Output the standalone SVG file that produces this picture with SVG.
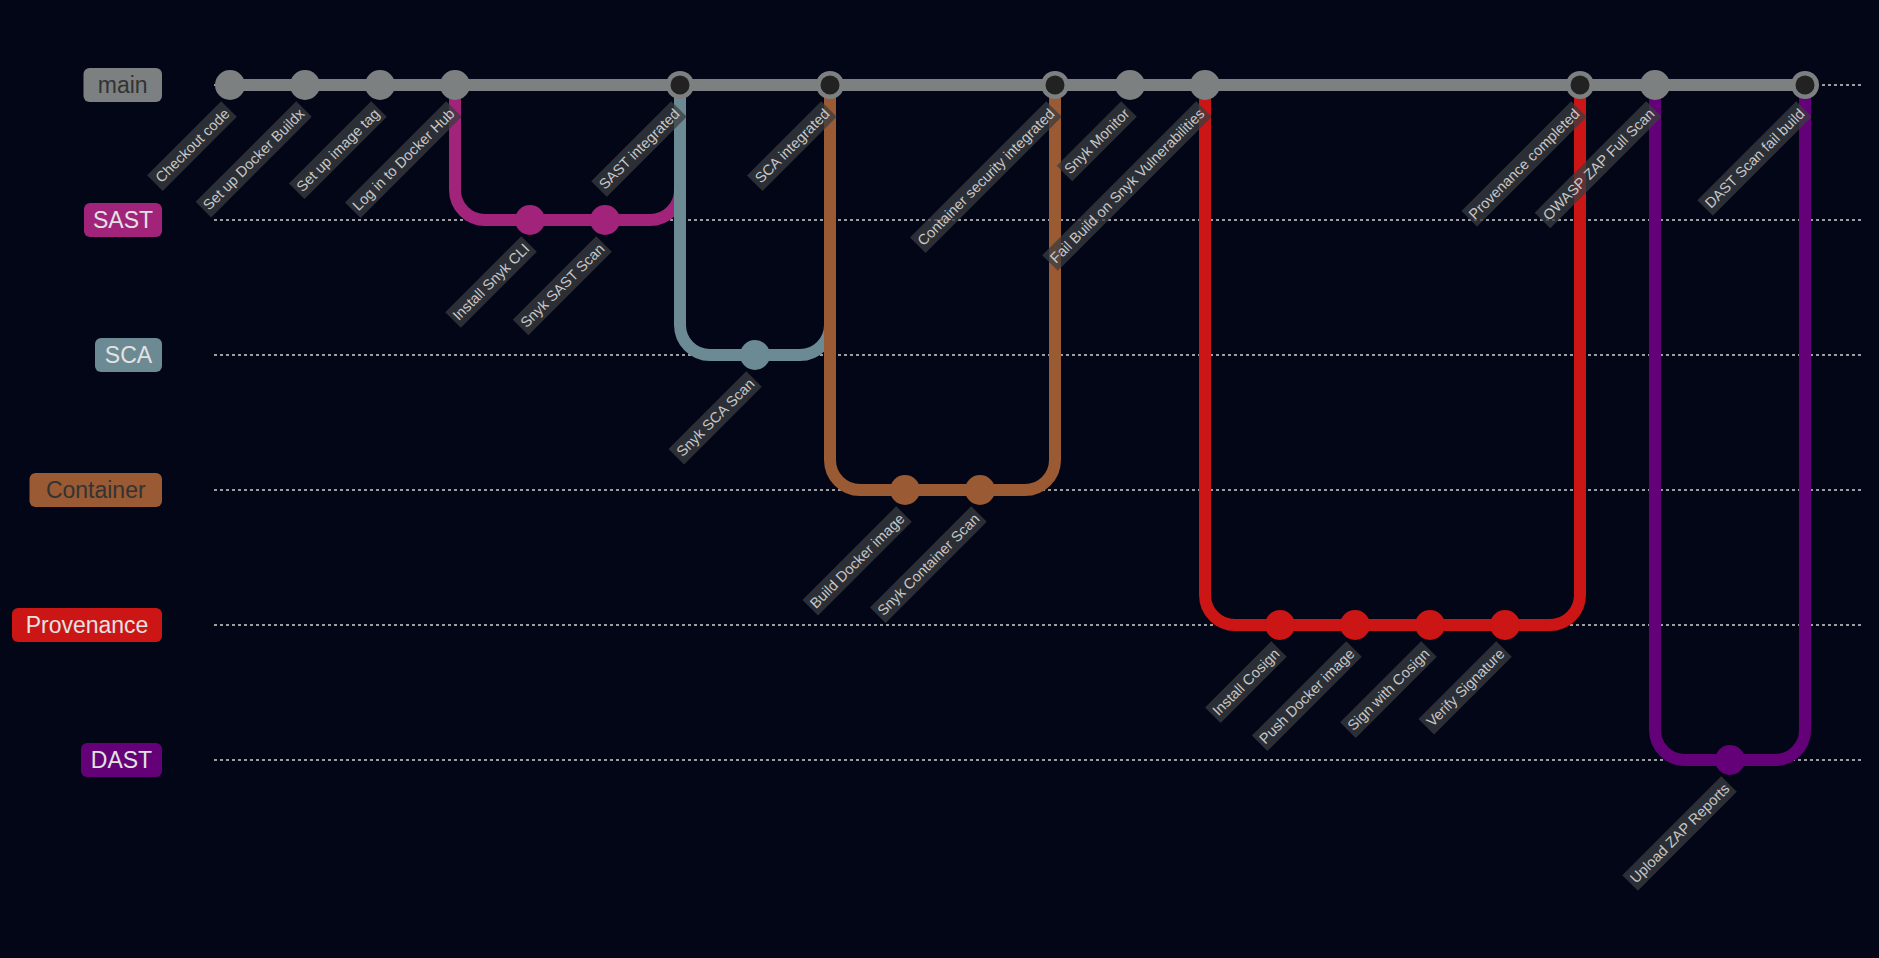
<svg xmlns="http://www.w3.org/2000/svg" width="1879" height="958" viewBox="0 0 1879 958">
<style>
.lane{stroke:#d0d0d0;stroke-width:1.5;stroke-dasharray:3 3;fill:none}
.arr{fill:none;stroke-width:12;stroke-linecap:butt}
.c-main{stroke:#7c8080}.f-main{fill:#7c8080}
.c-sast{stroke:#a1237a}.f-sast{fill:#a1237a}
.c-sca{stroke:#6c8a94}.f-sca{fill:#6c8a94}
.c-cont{stroke:#9a5a33}.f-cont{fill:#9a5a33}
.c-prov{stroke:#cc1515}.f-prov{fill:#cc1515}
.c-dast{stroke:#640078}.f-dast{fill:#640078}
.inner{fill:#222222}
.lbl rect{fill:#3a3d40;opacity:0.75}
.lbl text{font-family:"Liberation Sans",Arial,sans-serif;font-size:14.6px;fill:#c8c8c8;text-anchor:end}
.bl text{font-family:"Liberation Sans",Arial,sans-serif;font-size:23px;text-anchor:middle}
.light{fill:#e2e2e2}.dark{fill:#333333}
</style>
<rect x="0" y="0" width="1879" height="958" fill="#020617"/>

<g id="lanes">
<line class="lane" x1="214" y1="85" x2="1864" y2="85"/>
<line class="lane" x1="214" y1="220" x2="1864" y2="220"/>
<line class="lane" x1="214" y1="355" x2="1864" y2="355"/>
<line class="lane" x1="214" y1="490" x2="1864" y2="490"/>
<line class="lane" x1="214" y1="625" x2="1864" y2="625"/>
<line class="lane" x1="214" y1="760" x2="1864" y2="760"/>
</g>

<g id="branch-labels">
<g id="branch-main" class="bl"><rect x="83.5" y="68" width="78.5" height="34" rx="6" class="f-main"/><text x="122.75" y="93" class="dark">main</text></g>
<g id="branch-sast" class="bl"><rect x="84" y="203" width="78" height="34" rx="6" class="f-sast"/><text x="123" y="228" class="light">SAST</text></g>
<g id="branch-sca" class="bl"><rect x="95" y="338" width="67" height="34" rx="6" class="f-sca"/><text x="128.5" y="363" class="light">SCA</text></g>
<g id="branch-container" class="bl"><rect x="29.5" y="473" width="132.5" height="34" rx="6" class="f-cont"/><text x="95.75" y="498" class="dark">Container</text></g>
<g id="branch-provenance" class="bl"><rect x="12" y="608" width="150" height="34" rx="6" class="f-prov"/><text x="87" y="633" class="light">Provenance</text></g>
<g id="branch-dast" class="bl"><rect x="81" y="743" width="81" height="34" rx="6" class="f-dast"/><text x="121.5" y="768" class="light">DAST</text></g>
</g>

<g id="connectors">
<path class="arr c-main" d="M230 85 H1805"/>
<path class="arr c-sast" d="M455 85 V190 A30 30 0 0 0 485 220 H530"/>
<path class="arr c-sast" d="M530 220 H605"/>
<path class="arr c-sast" d="M605 220 H650 A30 30 0 0 0 680 190 V85"/>
<path class="arr c-sca" d="M680 85 V325 A30 30 0 0 0 710 355 H755"/>
<path class="arr c-sca" d="M755 355 H800 A30 30 0 0 0 830 325 V85"/>
<path class="arr c-cont" d="M830 85 V460 A30 30 0 0 0 860 490 H905"/>
<path class="arr c-cont" d="M905 490 H980"/>
<path class="arr c-cont" d="M980 490 H1025 A30 30 0 0 0 1055 460 V85"/>
<path class="arr c-prov" d="M1205 85 V595 A30 30 0 0 0 1235 625 H1280"/>
<path class="arr c-prov" d="M1280 625 H1505"/>
<path class="arr c-prov" d="M1505 625 H1550 A30 30 0 0 0 1580 595 V85"/>
<path class="arr c-dast" d="M1655 85 V730 A30 30 0 0 0 1685 760 H1730"/>
<path class="arr c-dast" d="M1730 760 H1775 A30 30 0 0 0 1805 730 V85"/>
</g>

<g id="commits">
<g id="c0"><circle cx="230" cy="85" r="15" class="f-main"/><g class="lbl" transform="translate(229,109) rotate(-45)"><rect x="-104.8" y="-11" width="104.8" height="22"/><text x="-3" y="5">Checkout code</text></g></g>
<g id="c1"><circle cx="305" cy="85" r="15" class="f-main"/><g class="lbl" transform="translate(304,109) rotate(-45)"><rect x="-142.3" y="-11" width="142.3" height="22"/><text x="-3" y="5">Set up Docker Buildx</text></g></g>
<g id="c2"><circle cx="380" cy="85" r="15" class="f-main"/><g class="lbl" transform="translate(379,109) rotate(-45)"><rect x="-116.4" y="-11" width="116.4" height="22"/><text x="-3" y="5">Set up image tag</text></g></g>
<g id="c3"><circle cx="455" cy="85" r="15" class="f-main"/><g class="lbl" transform="translate(454,109) rotate(-45)"><rect x="-143.1" y="-11" width="143.1" height="22"/><text x="-3" y="5">Log in to Docker Hub</text></g></g>
<g id="c4"><circle cx="530" cy="220" r="15" class="f-sast"/><g class="lbl" transform="translate(529,244) rotate(-45)"><rect x="-107.4" y="-11" width="107.4" height="22"/><text x="-3" y="5">Install Snyk CLI</text></g></g>
<g id="c5"><circle cx="605" cy="220" r="15" class="f-sast"/><g class="lbl" transform="translate(604,244) rotate(-45)"><rect x="-118" y="-11" width="118" height="22"/><text x="-3" y="5">Snyk SAST Scan</text></g></g>
<g id="c6"><circle cx="680" cy="85" r="14" class="f-main"/><circle cx="680" cy="85" r="9.5" class="inner"/><g class="lbl" transform="translate(679,109) rotate(-45)"><rect x="-113.1" y="-11" width="113.1" height="22"/><text x="-3" y="5">SAST integrated</text></g></g>
<g id="c7"><circle cx="755" cy="355" r="15" class="f-sca"/><g class="lbl" transform="translate(754,379) rotate(-45)"><rect x="-109.9" y="-11" width="109.9" height="22"/><text x="-3" y="5">Snyk SCA Scan</text></g></g>
<g id="c8"><circle cx="830" cy="85" r="14" class="f-main"/><circle cx="830" cy="85" r="9.5" class="inner"/><g class="lbl" transform="translate(829,109) rotate(-45)"><rect x="-105" y="-11" width="105" height="22"/><text x="-3" y="5">SCA integrated</text></g></g>
<g id="c9"><circle cx="905" cy="490" r="15" class="f-cont"/><g class="lbl" transform="translate(904,514) rotate(-45)"><rect x="-132.6" y="-11" width="132.6" height="22"/><text x="-3" y="5">Build Docker image</text></g></g>
<g id="c10"><circle cx="980" cy="490" r="15" class="f-cont"/><g class="lbl" transform="translate(979,514) rotate(-45)"><rect x="-143.1" y="-11" width="143.1" height="22"/><text x="-3" y="5">Snyk Container Scan</text></g></g>
<g id="c11"><circle cx="1055" cy="85" r="14" class="f-main"/><circle cx="1055" cy="85" r="9.5" class="inner"/><g class="lbl" transform="translate(1054,109) rotate(-45)"><rect x="-192.6" y="-11" width="192.6" height="22"/><text x="-3" y="5">Container security integrated</text></g></g>
<g id="c12"><circle cx="1130" cy="85" r="15" class="f-main"/><g class="lbl" transform="translate(1129,109) rotate(-45)"><rect x="-91.2" y="-11" width="91.2" height="22"/><text x="-3" y="5">Snyk Monitor</text></g></g>
<g id="c13"><circle cx="1205" cy="85" r="15" class="f-main"/><g class="lbl" transform="translate(1204,109) rotate(-45)"><rect x="-217.8" y="-11" width="217.8" height="22"/><text x="-3" y="5">Fail Build on Snyk Vulnerabilities</text></g></g>
<g id="c14"><circle cx="1280" cy="625" r="15" class="f-prov"/><g class="lbl" transform="translate(1279,649) rotate(-45)"><rect x="-93.6" y="-11" width="93.6" height="22"/><text x="-3" y="5">Install Cosign</text></g></g>
<g id="c15"><circle cx="1355" cy="625" r="15" class="f-prov"/><g class="lbl" transform="translate(1354,649) rotate(-45)"><rect x="-133.4" y="-11" width="133.4" height="22"/><text x="-3" y="5">Push Docker image</text></g></g>
<g id="c16"><circle cx="1430" cy="625" r="15" class="f-prov"/><g class="lbl" transform="translate(1429,649) rotate(-45)"><rect x="-114.7" y="-11" width="114.7" height="22"/><text x="-3" y="5">Sign with Cosign</text></g></g>
<g id="c17"><circle cx="1505" cy="625" r="15" class="f-prov"/><g class="lbl" transform="translate(1504,649) rotate(-45)"><rect x="-109.9" y="-11" width="109.9" height="22"/><text x="-3" y="5">Verify Signature</text></g></g>
<g id="c18"><circle cx="1580" cy="85" r="14" class="f-main"/><circle cx="1580" cy="85" r="9.5" class="inner"/><g class="lbl" transform="translate(1579,109) rotate(-45)"><rect x="-155.3" y="-11" width="155.3" height="22"/><text x="-3" y="5">Provenance completed</text></g></g>
<g id="c19"><circle cx="1655" cy="85" r="15" class="f-main"/><g class="lbl" transform="translate(1654,109) rotate(-45)"><rect x="-157.7" y="-11" width="157.7" height="22"/><text x="-3" y="5">OWASP ZAP Full Scan</text></g></g>
<g id="c20"><circle cx="1730" cy="760" r="15" class="f-dast"/><g class="lbl" transform="translate(1729,784) rotate(-45)"><rect x="-139.9" y="-11" width="139.9" height="22"/><text x="-3" y="5">Upload ZAP Reports</text></g></g>
<g id="c21"><circle cx="1805" cy="85" r="14" class="f-main"/><circle cx="1805" cy="85" r="9.5" class="inner"/><g class="lbl" transform="translate(1804,109) rotate(-45)"><rect x="-139.9" y="-11" width="139.9" height="22"/><text x="-3" y="5">DAST Scan fail build</text></g></g>
</g>
</svg>
